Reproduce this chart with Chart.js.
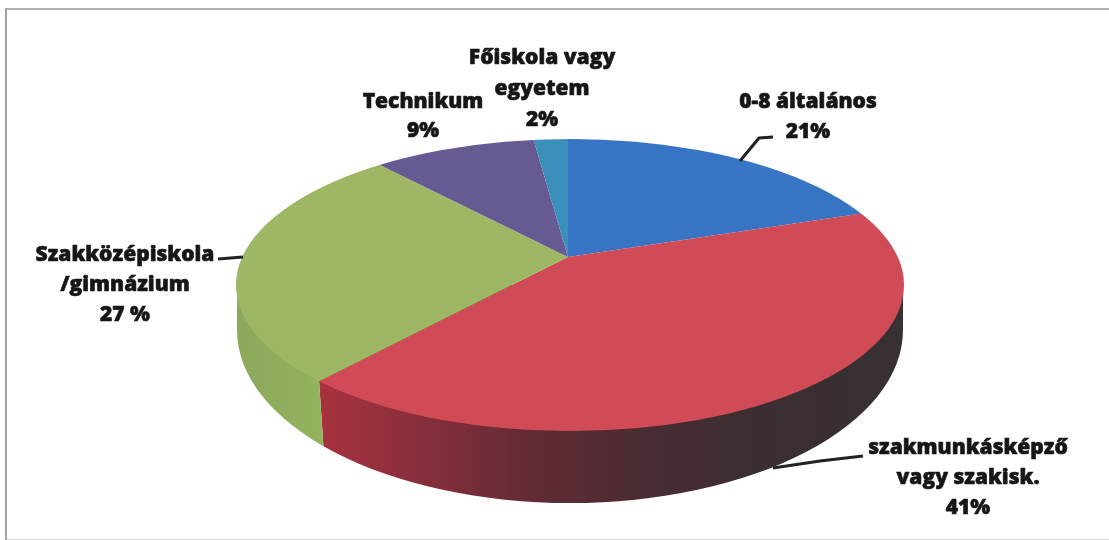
<!DOCTYPE html>
<html><head><meta charset="utf-8">
<style>html,body{margin:0;padding:0;background:#fff;overflow:hidden}#w{width:1109px;height:540px}canvas{display:block;filter:blur(0.5px)}</style>
<script src="https://cdn.jsdelivr.net/npm/chart.js@4/dist/chart.umd.min.js"></script>
</head><body><div id="w"><canvas id="c" width="1109" height="540"></canvas></div>
<script>
const categories = ["0-8 általános","szakmunkásképző vagy szakisk.","Szakközépiskola /gimnázium","Technikum","Főiskola vagy egyetem"];
const shares = [21,41,27,9,2];
const faceColors = ["#3874c4","#d04b56","#9db765","#675a92","#3b90bb"];
const labelLines = [
  ["0-8 általános","21%"],
  ["szakmunkásképző","vagy szakisk.","41%"],
  ["Szakközépiskola","/gimnázium","27 %"],
  ["Technikum","9%"],
  ["Főiskola vagy","egyetem","2%"]
];
const labelSpots = [[808,102,30],[968,448,30],[125,255,30],[423,102,29],[542,58,31]];
const leaders = [
  [[740,161],[759,138],[773,137]],
  [[773,468],[820,461],[863,456]],
  [[218,259],[243,257]]
];
const wallStops = [
  null,
  [[0,"#a8323f"],[0.1,"#96303e"],[0.35,"#642b35"],[0.55,"#4a2c32"],[0.75,"#3a2e31"],[1,"#383033"]],
  [[0,"#8ca85c"],[1,"#93b35e"]],
  null,null
];
const top_ = {cx:570,cy:285,rx:334,ry:146};
const base_ = {cx:570,cy:330,rx:333,ry:173};
const apex = {x:568,y:257};
const tilt = 0.435, shear = -0.0365, spread = 1.7, wallLean = 4, wallDepth = 60;

function rim(theta){
  const dx=Math.cos(theta)*spread, dy=(Math.sin(theta)*tilt+Math.cos(theta)*shear)*spread;
  const ox=(apex.x-top_.cx)/top_.rx, oy=(apex.y-top_.cy)/top_.ry;
  const ux=dx/top_.rx, uy=dy/top_.ry;
  const a=ux*ux+uy*uy, b=2*(ox*ux+oy*uy), c=ox*ox+oy*oy-1;
  const t=(-b+Math.sqrt(b*b-4*a*c))/(2*a);
  return {x:apex.x+t*dx,y:apex.y+t*dy};
}
const pie3d = {
  id:'pie3d',
  beforeDraw(ch){
    const g=ch.ctx; g.save();
    g.fillStyle='#fff'; g.fillRect(0,0,ch.width,ch.height);
    g.fillStyle='#b0b0b0'; g.fillRect(5,8,ch.width-5,2);
    g.fillStyle='#a0a0a0'; g.fillRect(5,8,2,ch.height-8);
    g.fillStyle='#d8d8d8'; g.fillRect(7,539,ch.width-7,1);
    g.restore();
  },
  beforeDatasetsDraw(ch){
    const g=ch.ctx, arcs=ch.getDatasetMeta(0).data;
    arcs.forEach((arc,i)=>{
      const stops=wallStops[i]; if(!stops) return;
      let lo=null,hi=null;
      const n=360;
      for(let k=0;k<=n;k++){
        const p=rim(arc.startAngle+(arc.endAngle-arc.startAngle)*k/n);
        if(p.y>=top_.cy){
          if(!lo||p.x<lo.x)lo=p;
          if(!hi||p.x>hi.x)hi=p;
        }
      }
      if(!lo) return;
      const edgeX=(p,y,out)=>{
        const outer=Math.abs(p.x-top_.cx)>top_.rx-4;
        return outer?p.x+out*8:p.x+wallLean*(y-p.y)/wallDepth;
      };
      g.save();
      g.beginPath();
      g.moveTo(edgeX(lo,top_.cy,-1),top_.cy);
      g.lineTo(edgeX(hi,top_.cy,1),top_.cy);
      g.lineTo(edgeX(hi,ch.height,1),ch.height);
      g.lineTo(edgeX(lo,ch.height,-1),ch.height);
      g.closePath(); g.clip();
      const gr=g.createLinearGradient(lo.x,0,hi.x,0);
      stops.forEach(s=>gr.addColorStop(s[0],s[1]));
      g.fillStyle=gr;
      g.beginPath();
      g.ellipse(base_.cx,base_.cy,base_.rx,base_.ry,0,0,Math.PI*2);
      g.rect(base_.cx-base_.rx,top_.cy,base_.rx*2,base_.cy-top_.cy);
      g.fill('nonzero');
      g.restore();
    });
    const a0=arcs[0];
    g.save();
    g.beginPath();
    g.ellipse(top_.cx,top_.cy,top_.rx,top_.ry,0,0,Math.PI*2);
    g.clip();
    g.translate(apex.x,apex.y);
    g.transform(spread,shear*spread,0,tilt*spread,0,0);
    g.translate(-a0.x,-a0.y);
  },
  afterDatasetsDraw(ch){
    const g=ch.ctx; g.restore();
    g.save();
    g.strokeStyle='#222'; g.lineWidth=3; g.lineJoin='round';
    leaders.forEach(l=>{
      g.beginPath();
      l.forEach((p,i)=> i?g.lineTo(p[0],p[1]):g.moveTo(p[0],p[1]));
      g.stroke();
    });
    g.fillStyle='#161616'; g.strokeStyle='#161616'; g.lineWidth=0.6;
    g.font='800 21px "Open Sans"';
    g.textAlign='center'; g.textBaseline='middle';
    labelLines.forEach((lines,i)=>{
      const s=labelSpots[i];
      lines.forEach((t,j)=>{
        g.fillText(t,s[0],s[1]+j*s[2]);
        g.strokeText(t,s[0],s[1]+j*s[2]);
      });
    });
    g.restore();
  }
};
new Chart(document.getElementById('c'),{
  type:'pie',
  data:{labels:categories,datasets:[{data:shares,backgroundColor:faceColors,borderWidth:0,clip:false}]},
  options:{
    responsive:false,animation:false,
    layout:{padding:0},
    plugins:{legend:{display:false},tooltip:{enabled:false}}
  },
  plugins:[pie3d]
});
</script></body></html>
